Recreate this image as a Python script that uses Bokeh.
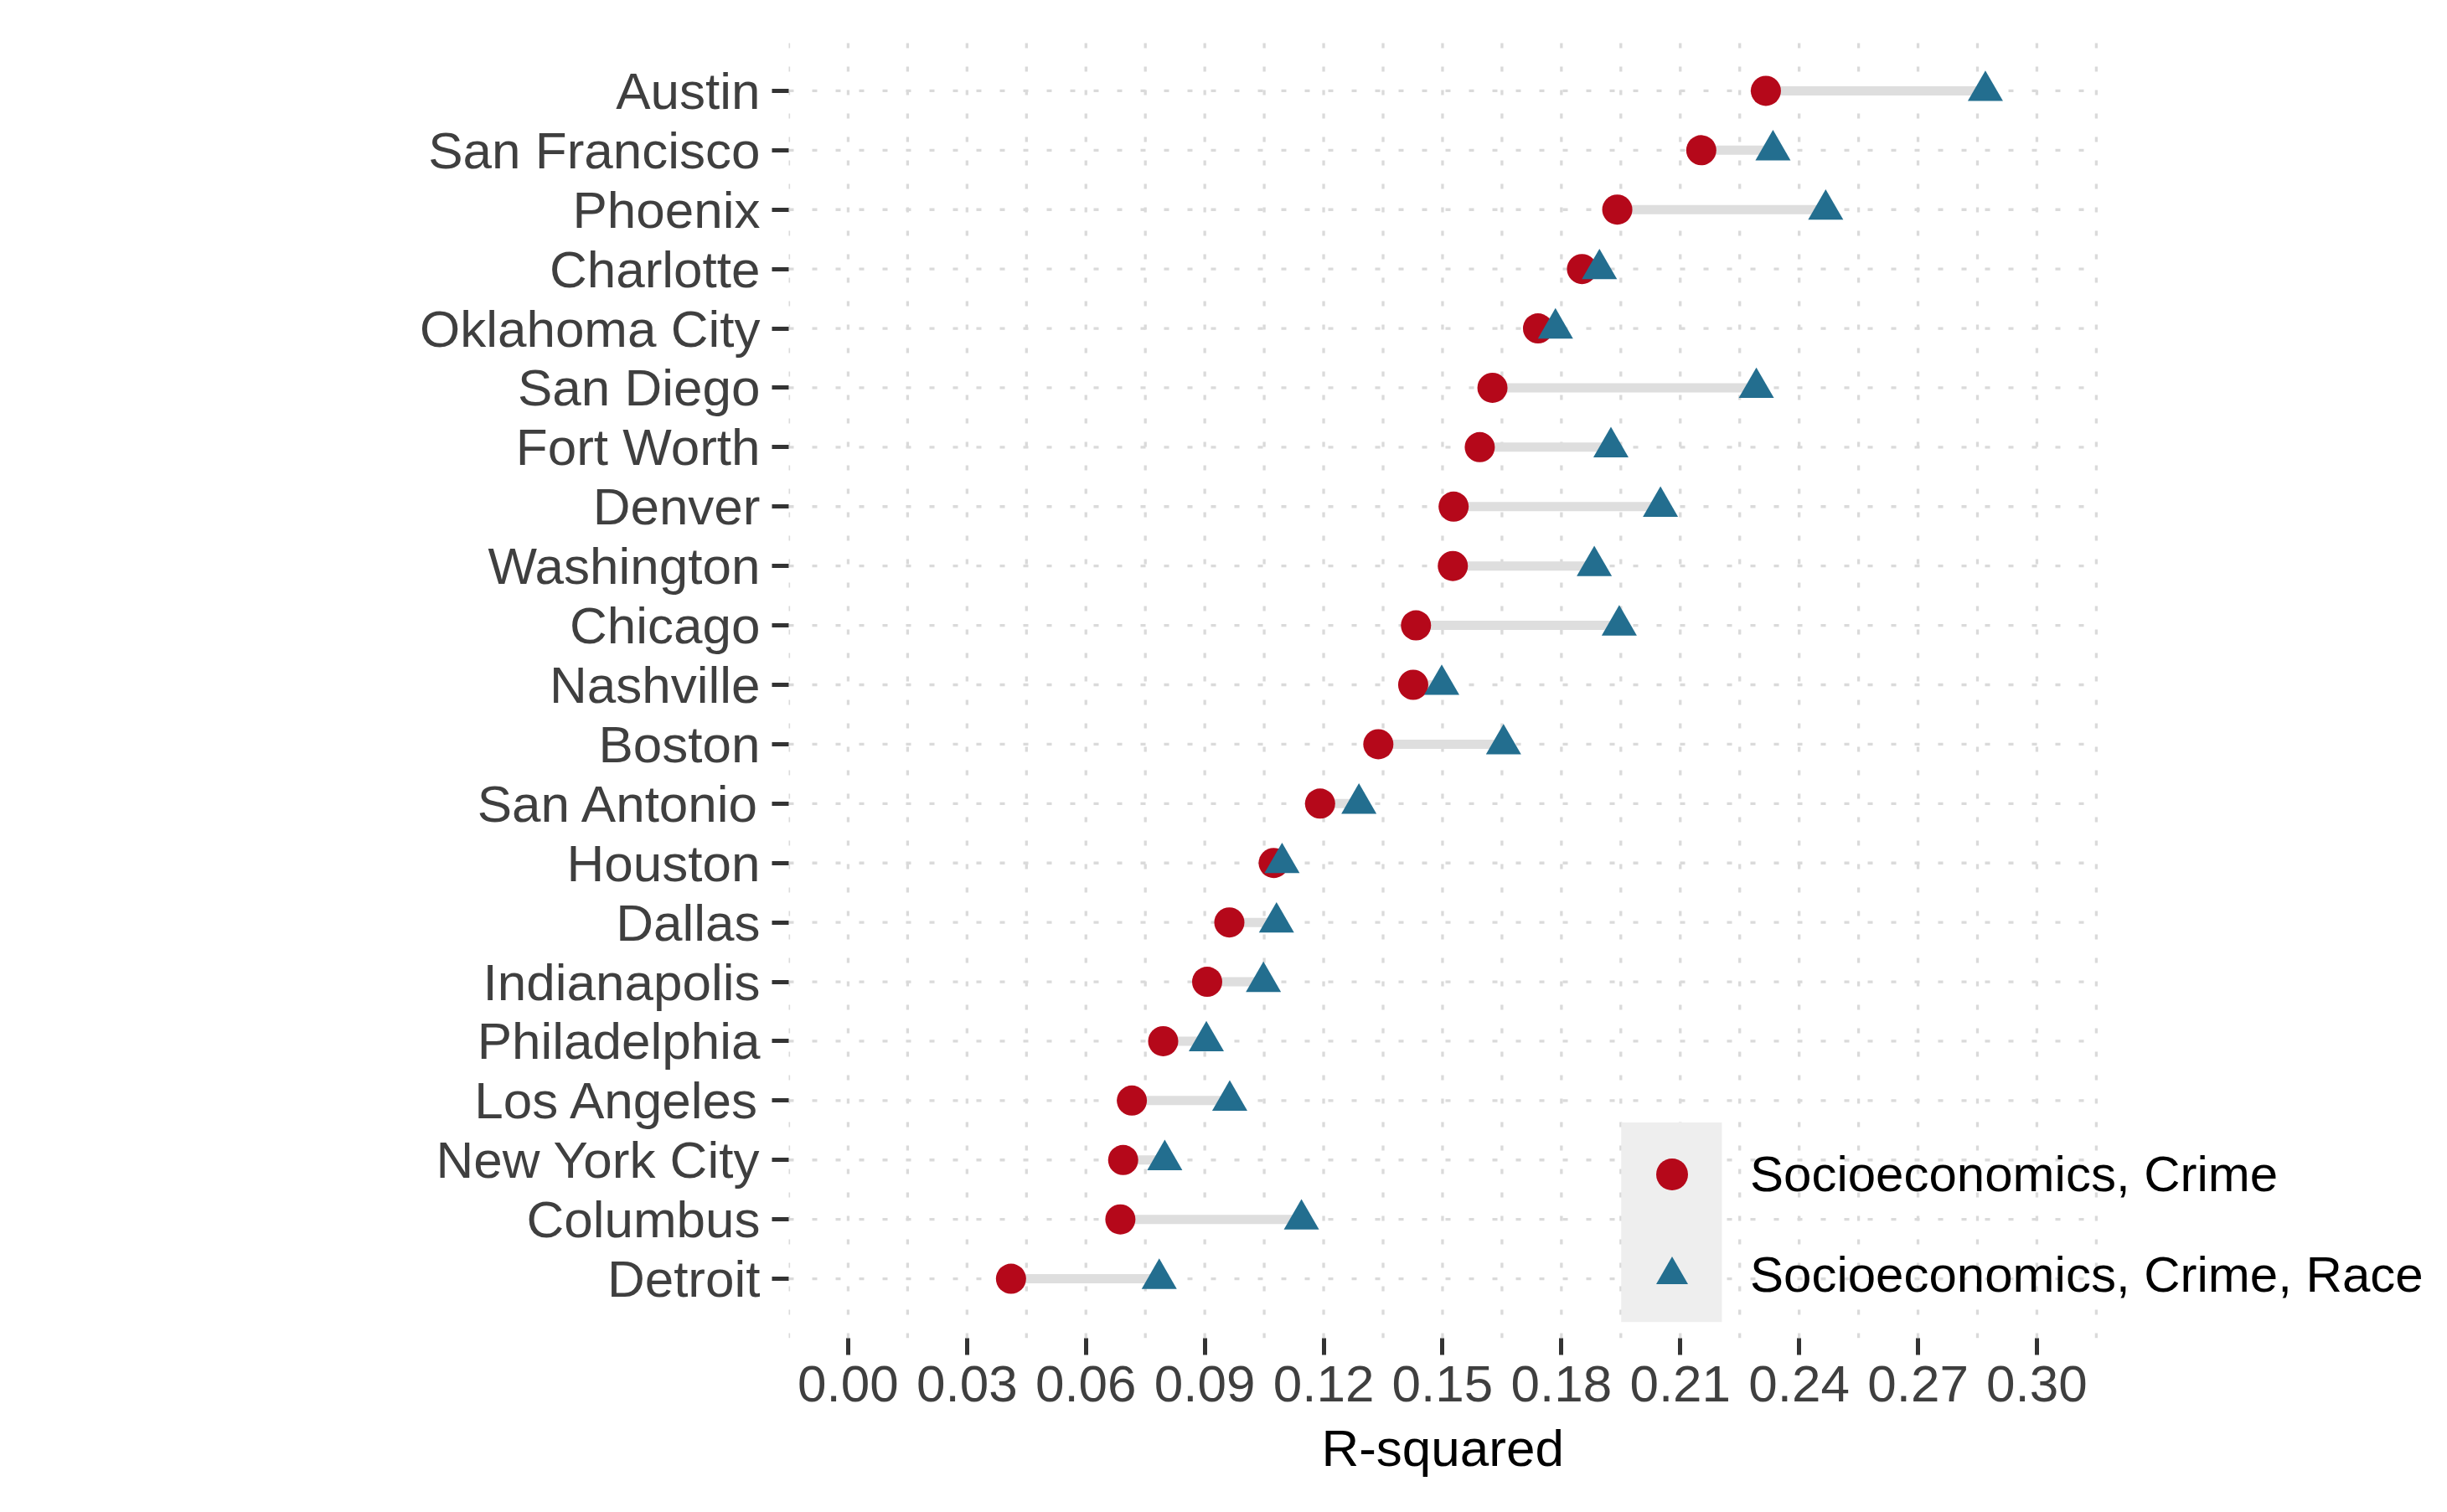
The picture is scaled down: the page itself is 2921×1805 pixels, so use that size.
from bokeh.plotting import figure
from bokeh.models import (Range1d, FixedTicker, Legend, LegendItem, BoxAnnotation,
                          ColumnDataSource, PrintfTickFormatter, Title)
from bokeh.embed import file_html
from bokeh.resources import INLINE

# ---------------- data ----------------
cities = ["Austin", "San Francisco", "Phoenix", "Charlotte", "Oklahoma City",
          "San Diego", "Fort Worth", "Denver", "Washington", "Chicago",
          "Nashville", "Boston", "San Antonio", "Houston", "Dallas",
          "Indianapolis", "Philadelphia", "Los Angeles", "New York City",
          "Columbus", "Detroit"]
r2_socio_crime = [0.2316, 0.2153, 0.1941, 0.1852, 0.1741,
                  0.1626, 0.1594, 0.1528, 0.1526, 0.1433,
                  0.1426, 0.1338, 0.1191, 0.1074, 0.0962,
                  0.0906, 0.0795, 0.0716, 0.0694,
                  0.0687, 0.0411]
r2_socio_crime_race = [0.2870, 0.2334, 0.2467, 0.1896, 0.1785,
                       0.2292, 0.1925, 0.2050, 0.1883, 0.1946,
                       0.1498, 0.1654, 0.1289, 0.1095, 0.1081,
                       0.1048, 0.0904, 0.0963, 0.0799,
                       0.1144, 0.0785]
x_ticks = [0.00, 0.03, 0.06, 0.09, 0.12, 0.15, 0.18, 0.21, 0.24, 0.27, 0.30]
legend_labels = ["Socioeconomics, Crime", "Socioeconomics, Crime, Race"]
x_title = "R-squared"

# ---------------- styling ----------------
FONT = "Liberation Sans"
FS = "62px"
RED = "#B5081A"
BLUE = "#236E8F"
GRID = "#DADADA"
SEG = "#DEDEDE"
TXT = "#3F3F3F"

n = len(cities)
ypos = list(range(n, 0, -1))  # Austin on top
src = ColumnDataSource(dict(city=cities, y=ypos, a=r2_socio_crime, b=r2_socio_crime_race))

# panel spans -0.015 .. 0.315 (ggplot expansion); the canvas continues to the
# right so that the legend (which sticks out of the panel) is not clipped
x_lo, x_hi = -0.015, 0.315
W, H = 2905, 1789
left_b, top_b, bottom_b = 941, 37, 192
px_per_unit = 1419 / 0.30
x_end = x_lo + (W - left_b) / px_per_unit

p = figure(width=W, height=H,
           x_range=Range1d(x_lo, x_end), y_range=Range1d(0, n + 1),
           output_backend="svg", toolbar_location=None,
           min_border_left=left_b, min_border_right=0,
           min_border_top=top_b, min_border_bottom=bottom_b)
p.outline_line_color = None
p.background_fill_color = "white"
p.border_fill_color = "white"
p.xgrid.visible = False
p.ygrid.visible = False

# axes
minor = [round(t - 0.015, 3) for t in x_ticks] + [round(x_ticks[-1] + 0.015, 3)]
p.xaxis.ticker = FixedTicker(ticks=x_ticks, minor_ticks=[])
p.xaxis.formatter = PrintfTickFormatter(format="%.2f")
p.yaxis.ticker = FixedTicker(ticks=ypos)
p.yaxis.major_label_overrides = {y: c for y, c in zip(ypos, cities)}

for ax in (p.xaxis[0], p.yaxis[0]):
    ax.axis_line_color = None
    ax.major_tick_line_color = "#333333"
    ax.major_tick_line_width = 5
    ax.major_tick_out = 20
    ax.major_tick_in = 0
    ax.minor_tick_line_color = None
    ax.major_label_text_font = FONT
    ax.major_label_text_font_size = FS
    ax.major_label_text_color = TXT
p.yaxis.major_label_standoff = 14
p.xaxis.major_label_standoff = 13

# x-axis title, centred on the panel (not on the wider canvas area)
title_w = 289
panel_center_px = ((x_lo + x_hi) / 2 - x_lo) * px_per_unit
p.add_layout(Title(text=x_title, align="left", offset=panel_center_px - title_w / 2,
                   text_font=FONT, text_font_size=FS, text_font_style="normal",
                   text_color="#000000", standoff=33), "below")

# panel grid (dotted), limited to the panel
vgrid = sorted(set([round(t, 3) for t in x_ticks] + minor))
p.segment(x0=vgrid, x1=vgrid, y0=[0] * len(vgrid), y1=[n + 1] * len(vgrid),
          line_color=GRID, line_width=3.3, line_dash="6 22", level="underlay")
p.segment(x0=[x_lo] * n, x1=[x_hi] * n, y0=ypos, y1=ypos,
          line_color=GRID, line_width=3.3, line_dash="6 22", level="underlay")

# legend key background
key_bg = BoxAnnotation(left=0.1951, right=0.2205, bottom=0.27, top=3.63,
                       fill_color="#EEEEEE", fill_alpha=1.0, line_color=None,
                       level="underlay")
p.add_layout(key_bg)

# marks
p.segment(x0="a", x1="b", y0="y", y1="y", source=src,
          line_color=SEG, line_width=11, line_cap="butt")
r_red = p.scatter(x="a", y="y", source=src, marker="circle", size=36,
                  fill_color=RED, line_color=None)
r_blue = p.scatter(x="b", y="y", source=src, marker="triangle", size=42,
                   fill_color=BLUE, line_color=None)

legend = Legend(items=[LegendItem(label=legend_labels[0], renderers=[r_red]),
                       LegendItem(label=legend_labels[1], renderers=[r_blue])],
                location=(1007, 28), orientation="vertical",
                glyph_width=95, glyph_height=95, spacing=25, padding=0, margin=0,
                label_standoff=46, label_text_font=FONT, label_text_font_size="60px",
                label_text_color="#000000", border_line_color=None,
                background_fill_alpha=0)
p.add_layout(legend, "center")

open("out.html", "w").write(file_html(p, INLINE))
